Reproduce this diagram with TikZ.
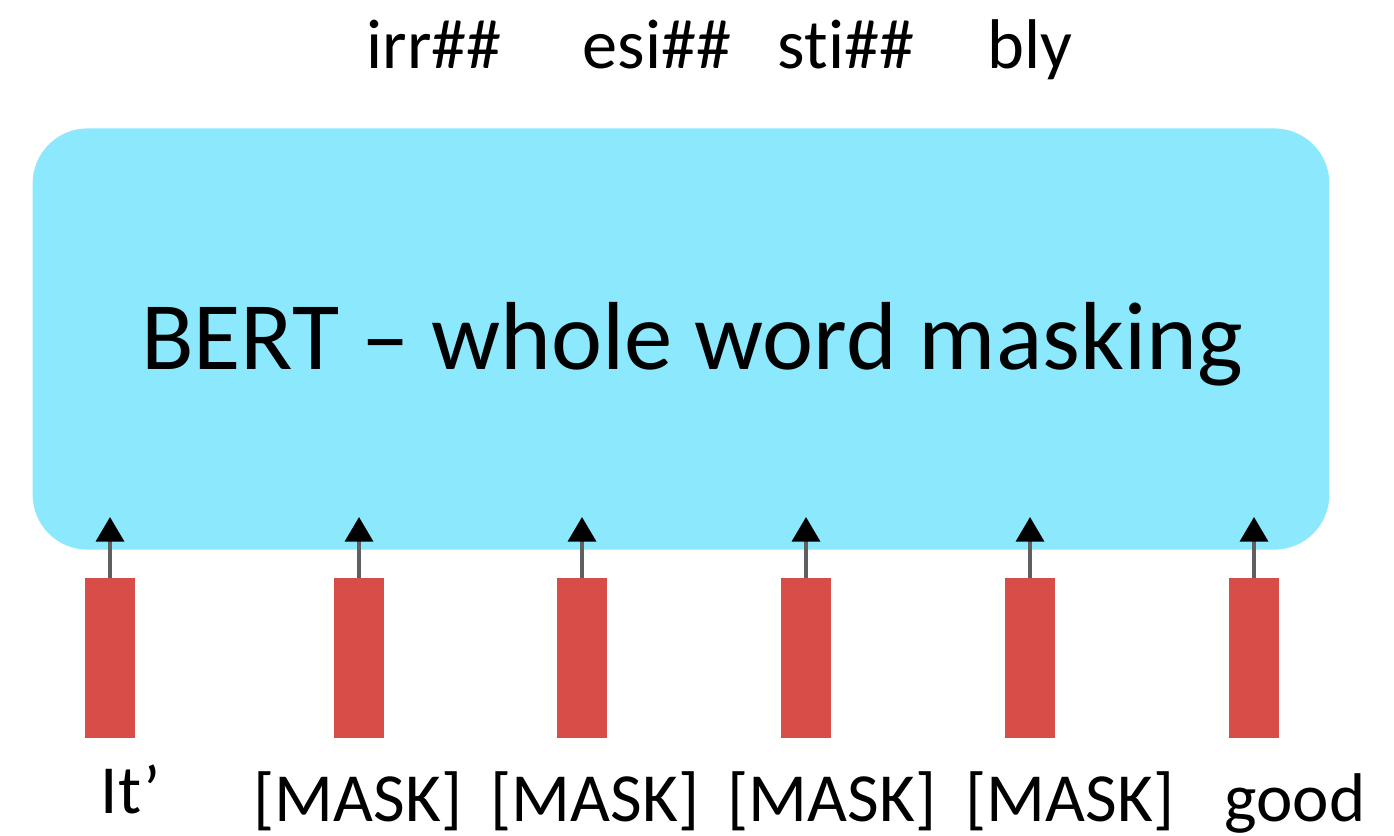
\documentclass[tikz,border=0pt]{standalone}
\usepackage{fontspec}
\setmainfont{Carlito}[Ligatures=NoCommon]
\usepackage{tikz}
\usetikzlibrary{
  arrows.meta,%
  positioning
}
\definecolor{bertcyan}{RGB}{139,232,253}
\definecolor{tokred}{RGB}{216,77,71}
\definecolor{feedgray}{RGB}{95,95,95}
\tikzset{>=latex}
% one unit is one pixel of the page
\tikzset{x=0.01cm, y=-0.01cm}
\tikzset{bertbox/.style={fill=bertcyan, rounded corners=0.55cm,
    minimum width=12.96cm, minimum height=4.21cm, inner sep=0pt},
  tokbar/.style={fill=tokred, minimum width=0.5cm, minimum height=1.59cm, inner sep=0pt},
  feed/.style={feedgray, line width=0.9pt, -{Triangle[black, width=8pt, length=7pt]}},
  toklabel/.style={anchor=base, inner sep=0pt, font=\fontsize{19.6}{24}\selectfont},
  outlabel/.style={anchor=base, inner sep=0pt, font=\fontsize{20}{24}\selectfont}}

\begin{document}
\begin{tikzpicture}
  \useasboundingbox (0,0) rectangle (1394,835);
  \node[bertbox] (bert) at (681,339) {};
  \node[anchor=base, inner sep=0pt, font=\fontsize{27.5}{32}\selectfont] (bertname) at (692,369) {BERT -- whole word masking};
  % token bars with their arrows into the model
  \foreach \i/\x in {1/110, 2/359, 3/582, 4/806, 5/1030, 6/1254}{
    \node[tokbar] (bar\i) at (\x,658) {};
    \coordinate (tip\i) at (\x,517);
    \draw[feed] (bar\i.north) -- (tip\i);
  }
  % input tokens
  \node[toklabel] (tok1) at (131,813) {It’};
  \node[toklabel] (tok2) at (358,821) {[MASK]};
  \node[toklabel] (tok3) at (595,821) {[MASK]};
  \node[toklabel] (tok4) at (832,821) {[MASK]};
  \node[toklabel] (tok5) at (1070,821) {[MASK]};
  \node[toklabel] (tok6) at (1295,821) {good};
  % predicted word pieces
  \node[outlabel] (out1) at (434,68) {irr\#\#};
  \node[outlabel] (out2) at (657,68) {esi\#\#};
  \node[outlabel] (out3) at (846,68) {sti\#\#};
  \node[outlabel] (out4) at (1030,68) {bly};
\end{tikzpicture}
\end{document}
